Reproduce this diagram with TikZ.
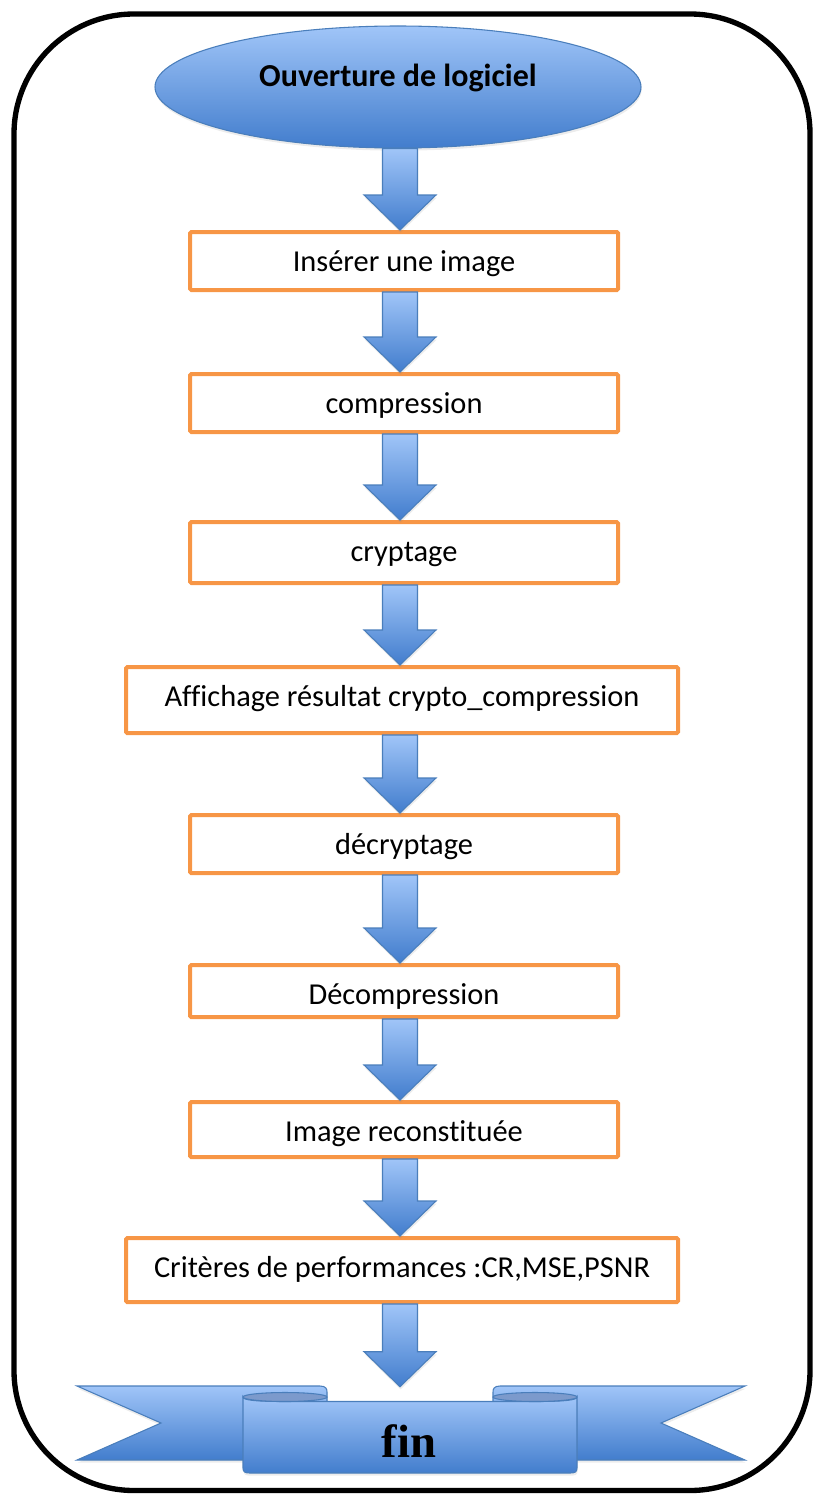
\documentclass[tikz,border=0pt]{standalone}
\usepackage{fontspec}
\setmainfont{Carlito}[Ligatures=NoCommon]
\newfontfamily\finfont{Liberation Serif}
\usetikzlibrary{shapes.geometric,calc,shadows}

\definecolor{boxorange}{RGB}{247,150,70}
\definecolor{bluetop}{RGB}{160,197,248}
\definecolor{bluebottom}{RGB}{66,125,205}
\definecolor{blueline}{RGB}{74,126,187}
\definecolor{rolldark}{RGB}{124,154,204}

\tikzset{
  frame/.style={line width=4pt, rounded corners=90pt},
  startnode/.style={ellipse, draw=blueline, line width=0.8pt, top color=bluetop, bottom color=bluebottom,
    minimum width=364.5pt, minimum height=91.5pt, inner sep=0pt, text height=12pt, text depth=12pt,
    drop shadow={opacity=0.15, shadow xshift=0.5pt, shadow yshift=-2pt},
    font=\bfseries\fontsize{24pt}{28pt}\selectfont},
  procbox/.style={draw=boxorange, line width=3pt, rounded corners=1pt, minimum width=321pt, minimum height=43.5pt, inner sep=0pt},
  widebox/.style={procbox, minimum width=414pt},
  boxlabel/.style={anchor=base, inner sep=0pt, font=\fontsize{22.8pt}{27pt}\selectfont},
  flowarrow/.style={draw=blueline, line width=0.8pt, top color=bluetop, bottom color=bluebottom,
    drop shadow={opacity=0.15, shadow xshift=0.5pt, shadow yshift=-2pt}},
  ribbonpart/.style={draw=blueline, line width=0.8pt, top color=bluetop, bottom color=bluebottom},
  rollpart/.style={draw=blueline, line width=0.8pt, fill=rolldark},
}

% block arrow on the common axis, from one node down to the next
\newcommand{\flowarrow}[2]{%
  \path[flowarrow] ($(axis |- #1.south)+(-17.5,0)$) -- ($(axis |- #1.south)+(17.5,0)$)
    -- ($(axis |- #2.north)+(17.5,-35)$) -- ($(axis |- #2.north)+(36,-35)$)
    -- (axis |- #2.north) -- ($(axis |- #2.north)+(-36,-35)$)
    -- ($(axis |- #2.north)+(-17.5,-35)$) -- cycle;}

% text of a box, cut off above the lower edge
\newcommand{\boxtext}[3]{%
  \begin{scope}
    \clip ($(#2.north west)+(0,2)$) rectangle ($(#2.south east)+(0,-11)$);
    \node[boxlabel] (#1) at ($(#2.north)+(0,41)$) {#3};
  \end{scope}}

\begin{document}
\begin{tikzpicture}[x=0.75pt,y=0.75pt,yscale=-1,xscale=1]
\useasboundingbox (0,0) rectangle (813,1495);

\coordinate (axis) at (400,0);

%Shape: Rounded Rectangle
\draw[frame] (14,14) rectangle (810,1490.5);

%Shape: Ellipse
\node[startnode] (start) at (398,87) {Ouverture de logiciel};

%Shape: Rectangles
\node[procbox] (insert) at (404,261) {};
\node[procbox] (compress) at (404,403) {};
\node[procbox, minimum height=45.75pt] (crypt) at (404,552.5) {};
\node[widebox, minimum height=49.5pt] (result) at (402,700) {};
\node[procbox] (decrypt) at (404,844) {};
\node[procbox, minimum height=39pt] (decompress) at (404,991) {};
\node[procbox, minimum height=41.25pt] (rebuilt) at (404,1129.5) {};
\node[widebox, minimum height=48pt] (perf) at (402,1270) {};

% Text Nodes
\boxtext{insertlbl}{insert}{Insérer une image}
\boxtext{compresslbl}{compress}{compression}
\boxtext{cryptlbl}{crypt}{cryptage}
\boxtext{resultlbl}{result}{Affichage résultat crypto\_compression}
\boxtext{decryptlbl}{decrypt}{décryptage}
\boxtext{decompresslbl}{decompress}{Décompression}
\boxtext{rebuiltlbl}{rebuilt}{Image reconstituée}
\boxtext{perflbl}{perf}{Critères de performances :CR,MSE,PSNR}

%Shape: Ribbon
\node[inner sep=0pt, minimum width=250.5pt, minimum height=64.5pt] (ribbon) at (410,1430) {};
\path[ribbonpart, drop shadow={opacity=0.15, shadow xshift=0.5pt, shadow yshift=-2pt}]
  (77,1386) -- (320,1386) .. controls (326,1386) and (327,1389) .. (327,1392) -- (327,1460) -- (77,1460) -- (161,1423) -- cycle;
\path[ribbonpart, drop shadow={opacity=0.15, shadow xshift=0.5pt, shadow yshift=-2pt}]
  (745,1386) -- (500,1386) .. controls (494,1386) and (493,1389) .. (493,1392) -- (493,1460) -- (745,1460) -- (661,1423) -- cycle;
\path[ribbonpart, drop shadow={opacity=0.15, shadow xshift=0.5pt, shadow yshift=-2pt}]
  (243,1397) -- (243,1468) .. controls (243,1472) and (245,1473) .. (250,1473) -- (570,1473)
  .. controls (575,1473) and (577,1472) .. (577,1468) -- (577,1397)
  .. controls (577,1400) and (565,1401.5) .. (535,1401.5) -- (285,1401.5)
  .. controls (255,1401.5) and (243,1400) .. (243,1397) -- cycle;
\path[rollpart] (285,1397) ellipse [x radius=42, y radius=4.5];
\path[rollpart] (535,1397) ellipse [x radius=42, y radius=4.5];
\node[anchor=base, inner sep=0pt, font=\finfont\bfseries\fontsize{35pt}{38pt}\selectfont] (fin) at (409,1457) {fin};

%Shape: Block Arrows
\flowarrow{start}{insert}
\flowarrow{insert}{compress}
\flowarrow{compress}{crypt}
\flowarrow{crypt}{result}
\flowarrow{result}{decrypt}
\flowarrow{decrypt}{decompress}
\flowarrow{decompress}{rebuilt}
\flowarrow{rebuilt}{perf}
\flowarrow{perf}{ribbon}

\end{tikzpicture}
\end{document}
